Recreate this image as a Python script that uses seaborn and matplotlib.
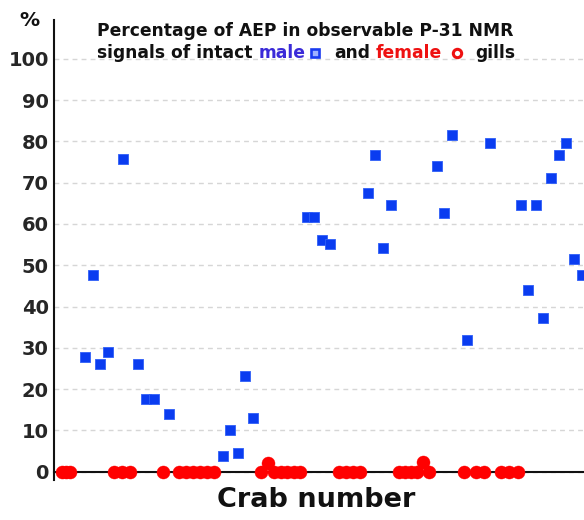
import matplotlib
matplotlib.use("Agg")
import matplotlib.pyplot as plt
import seaborn as sns
import pandas as pd
from matplotlib.lines import Line2D

# ---------------- data ----------------
male_crab = [4, 5, 6, 7, 9, 11, 12, 13, 15, 22, 23, 24, 25, 26, 33, 34, 35, 36,
             41, 42, 43, 44, 50, 51, 52, 54, 57, 61, 62, 63, 64, 65, 66, 67, 68, 69]
male_pct = [27.9, 47.7, 26.1, 28.9, 75.8, 26.1, 17.7, 17.7, 13.9, 3.7, 10.2, 4.5,
            23.2, 13.0, 61.7, 61.7, 56.2, 55.2, 67.4, 76.8, 54.3, 64.6, 74.0, 62.7,
            81.6, 31.8, 79.7, 64.6, 43.9, 64.6, 37.3, 71.2, 76.8, 79.7, 51.4, 47.7]

female_crab = [1.0, 1.5, 2.0, 7.8, 8.85, 9.9, 14.15, 16.3, 17.2, 18.1, 19.1, 20.0,
               20.9, 27.0, 27.9, 28.7, 29.7, 30.4, 31.3, 32.1, 37.2, 38.2, 39.1,
               40.0, 45.1, 45.9, 46.7, 47.5, 48.2, 49.0, 53.6, 55.2, 56.2, 58.5,
               59.5, 60.6]
female_pct = [0, 0, 0, 0, 0, 0, 0, 0, 0, 0, 0, 0,
              0, 0, 2.0, 0, 0, 0, 0, 0, 0, 0, 0,
              0, 0, 0, 0, 0, 2.4, 0, 0, 0, 0, 0,
              0, 0]

y_ticks = [0, 10, 20, 30, 40, 50, 60, 70, 80, 90, 100]

title_line1 = "Percentage of AEP in observable P-31 NMR"
title_parts = ["signals of intact", "male", "and", "female", "gills"]
y_label = "%"
x_label = "Crab number"

# ---------------- styling ----------------
sns.set_theme(style="white")
plt.rcParams['font.family'] = ['DejaVu Sans']
plt.rcParams['font.weight'] = 'bold'

MALE_C = "#0a3cf0"
FEMALE_C = "#ff0000"

W, H = 584, 520
fig = plt.figure(figsize=(W / 100, H / 100), dpi=100)
ax = fig.add_axes([54.4 / W, 1 - 480 / H, 1 - 54.4 / W, (480 - 20) / H])

males = pd.DataFrame({"crab": male_crab, "pct": male_pct})
females = pd.DataFrame({"crab": female_crab, "pct": female_pct})

sns.scatterplot(data=males, x="crab", y="pct", marker="s", s=50, color=MALE_C,
                edgecolor="#3060f8", linewidth=0.6, zorder=4, ax=ax, legend=False)
sns.scatterplot(data=females, x="crab", y="pct", marker="o", s=88, color=FEMALE_C,
                edgecolor=FEMALE_C, linewidth=0.3, zorder=4, ax=ax, legend=False,
                clip_on=False)

ax.set_xlim(0, 69.3)
ax.set_ylim(-2, 109.4)
ax.set_yticks(y_ticks)
ax.set_xticks([])
ax.set_xlabel("")
ax.set_ylabel("")
ax.yaxis.grid(True, color="#d6d6d6", linestyle=(0, (3.5, 3)), linewidth=1.0, zorder=0)
ax.set_axisbelow(True)
ax.tick_params(axis="y", length=0, pad=4, labelsize=14)
for lab in ax.get_yticklabels():
    lab.set_fontweight("bold")

for s in ["top", "right"]:
    ax.spines[s].set_visible(False)
ax.spines["left"].set_color("#111111")
ax.spines["left"].set_linewidth(1.5)
ax.spines["bottom"].set_position(("data", 0))
ax.spines["bottom"].set_color("#111111")
ax.spines["bottom"].set_linewidth(1.5)
ax.spines["bottom"].set_zorder(3)

# ---------------- texts ----------------
FS_T = 12.3
fig.text(97 / W, 1 - 36 / H, title_line1, fontsize=FS_T, fontweight="bold",
         ha="left", va="baseline", color="#111111")

r = fig.canvas.get_renderer()
base_y = 1 - 58.3 / H


def put(s, xpx, color):
    t = fig.text(xpx / W, base_y, s, fontsize=FS_T, fontweight="bold", color=color,
                 ha="left", va="baseline")
    bb = t.get_window_extent(renderer=r)
    return bb.x1


space = FS_T * 100 / 72 * 0.348
x = put(title_parts[0], 97, "#111111")
x = put(title_parts[1], x + space, "#3a2ad8")
sq_x = x + 9.5
fig.add_artist(Line2D([sq_x / W], [1 - 53 / H], marker="s", markersize=5.2,
                      markerfacecolor="#9fb2ff", markeredgecolor="#1a3cf0",
                      markeredgewidth=1.9, transform=fig.transFigure))
x = put(title_parts[2], sq_x + 19, "#111111")
x = put(title_parts[3], x + space, "#ee1111")
ring_x = x + 14.5
fig.add_artist(Line2D([ring_x / W], [1 - 52.5 / H], marker="o", markersize=6.0,
                      markerfacecolor="white", markeredgecolor="#ee1111",
                      markeredgewidth=2.2, transform=fig.transFigure))
put(title_parts[4], ring_x + 19, "#111111")

fig.text(29 / W, 1 - 21 / H, y_label, fontsize=14.5, fontweight="bold",
         ha="center", va="center", color="#111111")
fig.text(316 / W, 1 - 500 / H, x_label, fontsize=19.5, fontweight="bold",
         ha="center", va="center", color="#111111")

fig.savefig("out.png", dpi=100)
